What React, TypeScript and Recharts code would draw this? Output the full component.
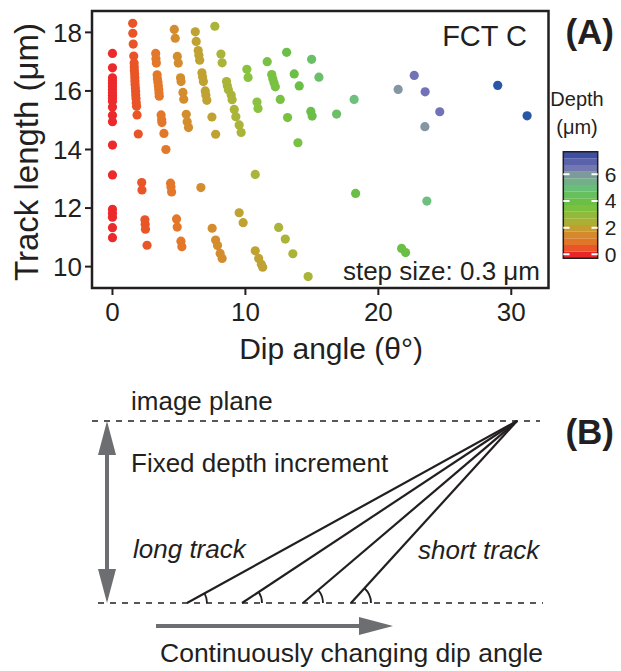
import React from "react";
import {
  ScatterChart,
  Scatter,
  XAxis,
  YAxis,
  ReferenceArea,
  ReferenceLine,
} from "recharts";

const FONT = '"Liberation Sans", Arial, Helvetica, sans-serif';
const INK = "#231f20";
const GRAY = "#6d6e71";

// (A) dip angle (deg), track length (µm) — one array per depth step
const step0 = [
  [0, 17.28], [0, 16.79], [0, 16.45], [0, 16.35], [0, 16.25], [0, 16.15], [0, 16.05],
  [0, 15.95], [0, 15.85], [0, 15.75], [0, 15.65], [0, 15.45], [0, 15.17], [0, 14.95],
  [0, 14.15], [0, 13.13], [0, 11.96], [0, 11.82], [0, 11.69], [0, 11.33], [0, 10.99],
];
const step1 = [
  [1.52, 18.31], [1.53, 17.97], [1.56, 17.6], [1.6, 17.19], [1.63, 16.95], [1.64, 16.82],
  [1.65, 16.7], [1.67, 16.58], [1.68, 16.46], [1.69, 16.34], [1.7, 16.22], [1.72, 16.1],
  [1.74, 15.98], [1.75, 15.86], [1.77, 15.74], [1.79, 15.6], [1.81, 15.48], [1.85, 15.18],
  [1.94, 14.53], [2.2, 12.87], [2.22, 12.62], [2.44, 11.6], [2.46, 11.45], [2.48, 11.28],
  [2.6, 10.73],
];
const step2 = [
  [3.25, 17.28], [3.27, 17.1], [3.3, 16.95], [3.36, 16.55], [3.38, 16.42], [3.42, 16.3],
  [3.45, 16.18], [3.48, 16.05], [3.5, 15.93], [3.52, 15.82], [3.66, 15.18], [3.7, 15.02],
  [3.72, 14.92], [3.87, 14.55], [4.02, 14.0], [4.37, 12.85], [4.4, 12.72], [4.45, 12.55],
  [4.82, 11.63], [4.87, 11.35], [5.15, 10.87], [5.22, 10.68],
];
const step3 = [
  [4.65, 18.1], [4.72, 17.8], [4.88, 17.18], [4.95, 16.95], [5.12, 16.45], [5.16, 16.32],
  [5.3, 15.95], [5.36, 15.72], [5.55, 15.2], [5.62, 14.95], [5.72, 14.75], [6.65, 12.7],
  [7.5, 11.31], [7.76, 10.91], [7.9, 10.72], [8.1, 10.45], [8.25, 10.28],
];
const step4 = [
  [6.23, 18.02], [6.3, 17.69], [6.45, 17.38], [6.5, 17.22], [6.56, 17.05], [6.73, 16.62],
  [6.78, 16.48], [6.84, 16.32], [6.98, 16.0], [7.03, 15.85], [7.1, 15.68], [7.48, 15.11],
  [7.76, 14.52], [9.53, 11.84], [9.83, 11.5], [10.74, 10.54], [11.0, 10.28], [11.2, 10.08],
  [11.3, 9.98],
];
const step5 = [
  [7.7, 18.21], [8.16, 17.26], [8.25, 16.96], [8.58, 16.32], [8.64, 16.18], [8.72, 16.04],
  [8.93, 15.86], [9.0, 15.7], [9.16, 15.37], [9.28, 15.12], [9.53, 14.84], [9.68, 14.58],
  [10.74, 13.15], [12.5, 11.34], [13.0, 10.94], [13.57, 10.44], [14.72, 9.66],
];
const step6 = [[10.11, 16.74], [10.2, 16.46], [10.87, 15.62], [10.95, 15.4]];
const step7 = [
  [11.64, 17.0], [11.98, 16.56], [12.06, 16.42], [12.15, 16.28], [12.25, 16.14],
  [12.62, 15.71], [13.17, 15.09], [13.95, 14.23],
];
const step8 = [
  [13.1, 17.32], [13.67, 16.58], [14.05, 16.17], [14.92, 15.3], [15.02, 15.14],
  [18.29, 12.5], [21.75, 10.62], [22.05, 10.48],
];
const step9 = [[14.98, 17.08], [15.53, 16.47], [16.86, 15.21]];
const step10 = [[18.18, 15.71], [23.65, 12.24]];
const step11 = [[21.49, 16.05], [23.5, 14.78]];
const step12 = [[22.7, 16.53], [23.52, 15.97], [24.62, 15.29]];
const step13 = [[28.98, 16.19], [31.19, 15.15]];

const steps = [step0, step1, step2, step3, step4, step5, step6, step7, step8, step9, step10, step11, step12, step13];
const stepColors = [
  "#ec2a2c", "#ea5528", "#e3782a", "#d48d2e", "#c0a233", "#a9b438", "#88c23f",
  "#78c142", "#6bbf46", "#6abf68", "#6dc07e", "#8296a4", "#7272b8", "#2a56a6",
];

const xTicks = [0, 10, 20, 30];
const yTicks = [10, 12, 14, 16, 18];

// colour bar
const depthTicks = [0, 2, 4, 6];
const bandColors = [
  "#e8262a", "#ea5428", "#e27628", "#d48a2c", "#c49c30", "#aab034", "#90bb3a", "#7cc040",
  "#6cbf45", "#68bf5e", "#6abf78", "#72b088", "#7c9a9a", "#7478b0", "#5a62aa", "#3c4fa2",
];

// (B) schematic, units = px of the drawing, y = 0 is the image plane
const depthIncrement = 182;
const apexX = 517;
const trackStarts = [187, 242, 303, 351];

const tick = { fill: INK, fontSize: 26, fontFamily: FONT };

const dotShape = (color: string) => (p: any) => (
  <circle cx={p.cx} cy={p.cy} r={4.6} fill={color} />
);

// white notches on both edges of the colour bar (bar is 34.4 px wide)
const Notch = (p: any) => (
  <g stroke="#fff" strokeWidth={2}>
    <line x1={p.cx - 17.2} y1={p.cy} x2={p.cx - 11} y2={p.cy} />
    <line x1={p.cx + 11} y1={p.cy} x2={p.cx + 17.2} y2={p.cy} />
  </g>
);

const ArcMark = (p: any) => {
  const a = p.payload.angle;
  const r = 20;
  const x2 = p.cx + r * Math.cos(a);
  const y2 = p.cy - r * Math.sin(a);
  return (
    <path
      d={`M${p.cx + r},${p.cy} A${r},${r} 0 0 0 ${x2},${y2}`}
      fill="none"
      stroke={INK}
      strokeWidth={1.8}
    />
  );
};

const ArrowHead = (p: any) => {
  const { cx, cy } = p;
  const L = 34;
  const W = 9;
  let pts = "";
  if (p.payload.dir === "up") pts = `${cx},${cy} ${cx - W},${cy + L} ${cx + W},${cy + L}`;
  if (p.payload.dir === "down") pts = `${cx},${cy} ${cx - W},${cy - L} ${cx + W},${cy - L}`;
  if (p.payload.dir === "right") pts = `${cx},${cy} ${cx - L},${cy - W} ${cx - L},${cy + W}`;
  return <polygon points={pts} fill={GRAY} />;
};

export default function App() {
  const arcs = trackStarts.map((x) => ({
    x,
    y: -depthIncrement,
    angle: Math.atan2(depthIncrement, apexX - x),
  }));
  const heads = [
    { x: 107, y: 0, dir: "up" },
    { x: 107, y: -depthIncrement, dir: "down" },
    { x: 393, y: -205, dir: "right" },
  ];

  return (
    <div style={{ position: "absolute", left: 0, top: 0, width: 621, height: 671, background: "#fff", fontFamily: FONT }}>
      {/* (A) scatter */}
      <div style={{ position: "absolute", left: 0, top: 0 }}>
        <ScatterChart width={621} height={380} margin={{ top: 11, right: 72.5, bottom: 0, left: 0 }}>
          <XAxis
            type="number"
            dataKey="x"
            domain={[-1.54, 32.8]}
            ticks={xTicks}
            interval={0}
            allowDataOverflow
            height={92}
            axisLine={false}
            tickSize={7}
            tickMargin={8}
            tickLine={{ stroke: INK, strokeWidth: 2 }}
            tick={tick}
          />
          <YAxis
            type="number"
            dataKey="y"
            domain={[9.27, 18.73]}
            ticks={yTicks}
            interval={0}
            allowDataOverflow
            width={92}
            axisLine={false}
            tickSize={7}
            tickMargin={3}
            tickLine={{ stroke: INK, strokeWidth: 2 }}
            tick={tick}
          />
          <ReferenceArea x1={-1.54} x2={32.8} y1={9.27} y2={18.73} fill="none" stroke={INK} strokeWidth={2.5} />
          {steps.map((s, i) => (
            <Scatter
              key={i}
              data={s.map(([x, y]) => ({ x, y }))}
              fill={stepColors[i]}
              shape={dotShape(stepColors[i])}
              isAnimationActive={false}
            />
          ))}
        </ScatterChart>
      </div>

      {/* depth colour bar */}
      <div style={{ position: "absolute", left: 555, top: 140 }}>
        <ScatterChart width={66} height={130} margin={{ top: 11.7, right: 0, bottom: 11.7, left: 8.3 }}>
          <XAxis type="number" dataKey="x" domain={[0, 1]} hide />
          <YAxis
            type="number"
            dataKey="y"
            orientation="right"
            domain={[-0.3, 7.7]}
            ticks={depthTicks}
            interval={0}
            allowDataOverflow
            width={23.3}
            axisLine={false}
            tickLine={false}
            tickSize={0}
            tickMargin={7}
            tick={{ fill: INK, fontSize: 21, fontFamily: FONT }}
          />
          {bandColors.map((c, i) => (
            <ReferenceArea key={i} x1={0} x2={1} y1={-0.3 + i * 0.5} y2={0.2 + i * 0.5} fill={c} fillOpacity={1} stroke="none" />
          ))}
          <ReferenceArea x1={0} x2={1} y1={-0.3} y2={7.7} fill="none" stroke={INK} strokeWidth={1.5} />
          <Scatter data={depthTicks.map((d) => ({ x: 0.5, y: d }))} shape={Notch} isAnimationActive={false} />
        </ScatterChart>
      </div>

      {/* (B) schematic */}
      <div style={{ position: "absolute", left: 0, top: 380 }}>
        <ScatterChart width={621} height={291} margin={{ top: 0, right: 0, bottom: 0, left: 0 }}>
          <XAxis type="number" dataKey="x" domain={[0, 621]} hide />
          <YAxis type="number" dataKey="y" domain={[-250, 41]} hide />
          <ReferenceLine segment={[{ x: 92, y: 0 }, { x: 540, y: 0 }]} stroke={INK} strokeWidth={1.5} strokeDasharray="6 6" />
          <ReferenceLine
            segment={[{ x: 98, y: -depthIncrement }, { x: 543, y: -depthIncrement }]}
            stroke={INK}
            strokeWidth={1.5}
            strokeDasharray="6 6"
          />
          {trackStarts.map((x) => (
            <ReferenceLine key={x} segment={[{ x, y: -depthIncrement }, { x: apexX, y: 0 }]} stroke={INK} strokeWidth={2.2} />
          ))}
          <ReferenceLine segment={[{ x: 107, y: -30 }, { x: 107, y: -152 }]} stroke={GRAY} strokeWidth={4} />
          <ReferenceLine segment={[{ x: 156, y: -205 }, { x: 365, y: -205 }]} stroke={GRAY} strokeWidth={4} />
          <Scatter data={arcs} shape={ArcMark} isAnimationActive={false} />
          <Scatter data={heads} shape={ArrowHead} isAnimationActive={false} />
        </ScatterChart>
      </div>

      {/* text */}
      <svg width={621} height={671} style={{ position: "absolute", left: 0, top: 0, pointerEvents: "none" }} fontFamily={FONT} fill={INK}>
        <text x={38} y={152} fontSize={33} textAnchor="middle" transform="rotate(-90 38 152)">
          Track length (μm)
        </text>
        <text x={331} y={359} fontSize={30} textAnchor="middle">Dip angle (θ°)</text>
        <text x={527} y={46} fontSize={29} textAnchor="end">FCT C</text>
        <text x={540} y={280} fontSize={26} textAnchor="end">step size: 0.3 μm</text>
        <text x={614} y={44} fontSize={35} fontWeight="bold" textAnchor="end">(A)</text>
        <text x={577} y={106} fontSize={20} textAnchor="middle">Depth</text>
        <text x={577} y={134} fontSize={20} textAnchor="middle">(μm)</text>

        <text x={131} y={410} fontSize={26}>image plane</text>
        <text x={131} y={472} fontSize={26}>Fixed depth increment</text>
        <text x={614} y={444} fontSize={35} fontWeight="bold" textAnchor="end">(B)</text>
        <text x={133} y={558} fontSize={26} fontStyle="italic">long track</text>
        <text x={418} y={559} fontSize={26} fontStyle="italic">short track</text>
        <text x={160} y={662} fontSize={26.5}>Continuously changing dip angle</text>
      </svg>
    </div>
  );
}
